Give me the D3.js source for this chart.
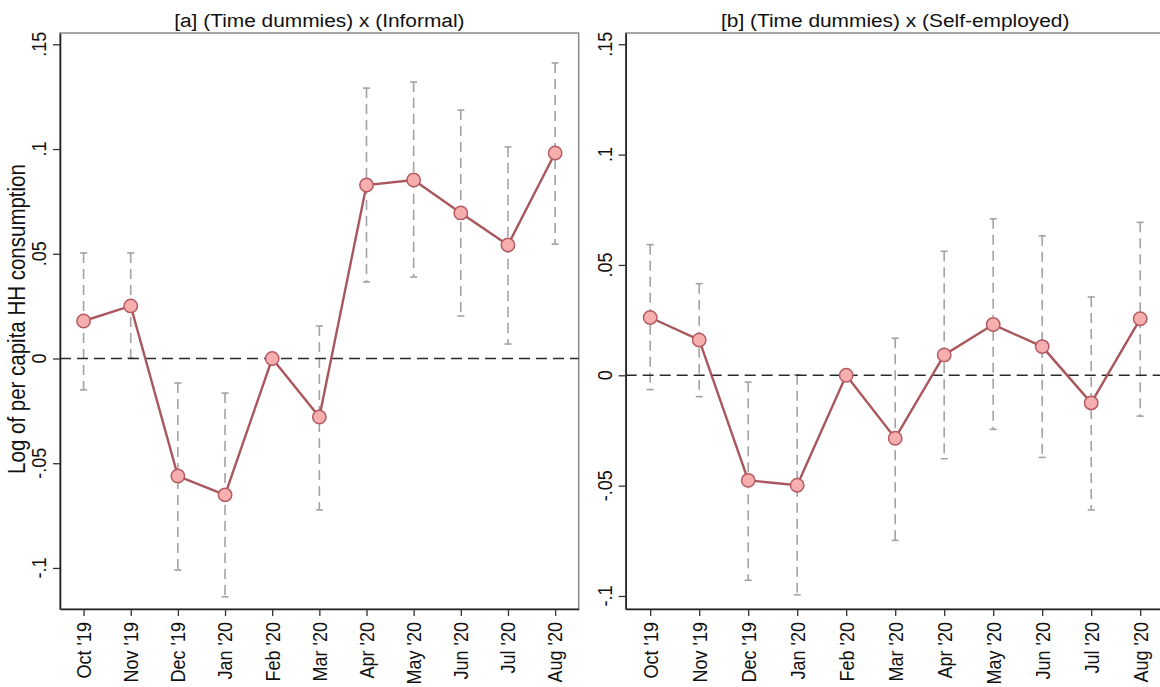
<!DOCTYPE html>
<html>
  <head>
    <meta charset="utf-8">
    <title>Time dummies</title>
    <script src="https://cdnjs.cloudflare.com/ajax/libs/d3/7.8.5/d3.min.js"></script>
    <style>
      body { margin: 0; background: #fff; }
      svg { display: block; font-family: "Liberation Sans", Arial, sans-serif; }
    </style>
  </head>

  <body>
    <div id="vis"></div>
    <script>
      // months, Feb '20 is the base month (no interval)
      var months = ["Oct '19", "Nov '19", "Dec '19", "Jan '20", "Feb '20", "Mar '20",
                    "Apr '20", "May '20", "Jun '20", "Jul '20", "Aug '20"];

      // [a] informal
      var informalCoef = [0.0179, 0.0251, -0.0561, -0.0651, 0, -0.0279, 0.0828, 0.0852, 0.0695, 0.0542, 0.0981];
      var informalLo   = [-0.0150, 0.0002, -0.1010, -0.1138, null, -0.0723, 0.0365, 0.0389, 0.0203, 0.0069, 0.0546];
      var informalHi   = [0.0504, 0.0504, -0.0117, -0.0165, null, 0.0155, 0.1291, 0.1320, 0.1186, 0.1010, 0.1411];

      // [b] self-employed
      var selfCoef = [0.0262, 0.0160, -0.0476, -0.0498, 0, -0.0285, 0.0092, 0.0230, 0.0130, -0.0125, 0.0256];
      var selfLo   = [-0.0065, -0.0097, -0.0929, -0.0995, null, -0.0748, -0.0378, -0.0245, -0.0372, -0.0610, -0.0185];
      var selfHi   = [0.0592, 0.0415, -0.0031, 0.0002, null, 0.0168, 0.0562, 0.0709, 0.0632, 0.0355, 0.0693];

      var yTicks = [0.15, 0.1, 0.05, 0, -0.05, -0.1];

      var W = 1160, H = 687, SX = 1.16;   // text looks horizontally stretched

      var svg = d3.select("#vis").append("svg")
        .attr("width", W).attr("height", H);

      function fmt(v) {
        if (v === 0) return "0";
        return String(v).replace("0.", ".");
      }

      var panels = [
        { title: "[a] (Time dummies) x (Informal)", left: 60, right: 578.7,
          yDom: [-0.1196, 0.1554], coef: informalCoef, lo: informalLo, hi: informalHi, ytitle: true },
        { title: "[b] (Time dummies) x (Self-employed)", left: 625.7, right: 1164.7,
          yDom: [-0.1059, 0.1551], coef: selfCoef, lo: selfLo, hi: selfHi, ytitle: false }
      ];
      var plotTop = 33, plotBottom = 609;

      panels.forEach(function (p) {
        var x = d3.scaleLinear().domain([-0.5, months.length - 0.5]).range([p.left, p.right]);
        var y = d3.scaleLinear().domain(p.yDom).range([plotBottom, plotTop]);
        var g = svg.append("g");

        // plot region outline
        g.append("rect")
          .attr("x", p.left).attr("y", plotTop)
          .attr("width", p.right - p.left).attr("height", plotBottom - plotTop)
          .attr("fill", "none").attr("stroke", "#8a8a8a").attr("stroke-width", 1.5);

        // y axis
        var ya = g.append("g").attr("transform", "translate(" + p.left + ",0)")
          .call(d3.axisLeft(y).tickValues(yTicks).tickSize(7).tickSizeOuter(0).tickFormat(""));
        ya.select(".domain").attr("stroke", "#222").attr("stroke-width", 1.6);
        ya.selectAll(".tick line").attr("stroke", "#333").attr("stroke-width", 1.3);

        g.selectAll("text.ytick").data(yTicks).enter().append("text")
          .attr("class", "ytick")
          .attr("transform", function (d) {
            return "translate(" + (p.left - 14) + "," + y(d) + ") scale(" + SX + ",1) rotate(-90)";
          })
          .attr("text-anchor", "middle")
          .attr("font-size", 18).attr("fill", "#111")
          .text(fmt);

        // x axis
        var xa = g.append("g").attr("transform", "translate(0," + plotBottom + ")")
          .call(d3.axisBottom(x).tickValues(d3.range(months.length)).tickSize(7).tickSizeOuter(0).tickFormat(""));
        xa.select(".domain").attr("stroke", "#222").attr("stroke-width", 1.6);
        xa.selectAll(".tick line").attr("stroke", "#333").attr("stroke-width", 1.3);

        g.selectAll("text.xtick").data(months).enter().append("text")
          .attr("class", "xtick")
          .attr("transform", function (d, i) {
            return "translate(" + x(i) + "," + (plotBottom + 13) + ") scale(" + SX + ",1) rotate(-90)";
          })
          .attr("text-anchor", "end")
          .attr("dy", "0.35em")
          .attr("font-size", 18).attr("fill", "#111")
          .text(function (d) { return d; });

        // title
        g.append("text")
          .attr("transform", "translate(" + ((p.left + p.right) / 2) + ",27) scale(" + SX + ",1)")
          .attr("text-anchor", "middle")
          .attr("font-size", 18).attr("fill", "#111")
          .text(p.title);

        if (p.ytitle) {
          g.append("text")
            .attr("transform", "translate(25,319) scale(" + SX + ",1) rotate(-90)")
            .attr("text-anchor", "middle")
            .attr("font-size", 20.5).attr("fill", "#111")
            .text("Log of per capita HH consumption");
        }

        // confidence intervals
        var ci = d3.range(months.length).filter(function (i) { return p.lo[i] !== null; });
        g.selectAll("line.ci").data(ci).enter().append("line")
          .attr("class", "ci")
          .attr("x1", function (i) { return x(i); }).attr("x2", function (i) { return x(i); })
          .attr("y1", function (i) { return y(p.hi[i]); }).attr("y2", function (i) { return y(p.lo[i]); })
          .attr("stroke", "#a3a3a3").attr("stroke-width", 1.6).attr("stroke-dasharray", "10,6");
        ["hi", "lo"].forEach(function (k) {
          g.selectAll("line.cap" + k).data(ci).enter().append("line")
            .attr("class", "cap" + k)
            .attr("x1", function (i) { return x(i) - 3.5; }).attr("x2", function (i) { return x(i) + 3.5; })
            .attr("y1", function (i) { return y(p[k][i]); }).attr("y2", function (i) { return y(p[k][i]); })
            .attr("stroke", "#a3a3a3").attr("stroke-width", 1.6);
        });

        // zero line
        g.append("line")
          .attr("x1", p.left).attr("x2", p.right)
          .attr("y1", y(0)).attr("y2", y(0))
          .attr("stroke", "#2a2a2a").attr("stroke-width", 1.6).attr("stroke-dasharray", "11,6");

        // connected estimates
        var line = d3.line().x(function (d, i) { return x(i); }).y(function (d) { return y(d); });
        g.append("path").datum(p.coef)
          .attr("d", line)
          .attr("fill", "none").attr("stroke", "#a9565d").attr("stroke-width", 2.4);

        g.selectAll("circle").data(p.coef).enter().append("circle")
          .attr("cx", function (d, i) { return x(i); })
          .attr("cy", function (d) { return y(d); })
          .attr("r", 6.7)
          .attr("fill", "#f6aeae").attr("stroke", "#b55b63").attr("stroke-width", 1.5);
      });
    </script>
  </body>
</html>
